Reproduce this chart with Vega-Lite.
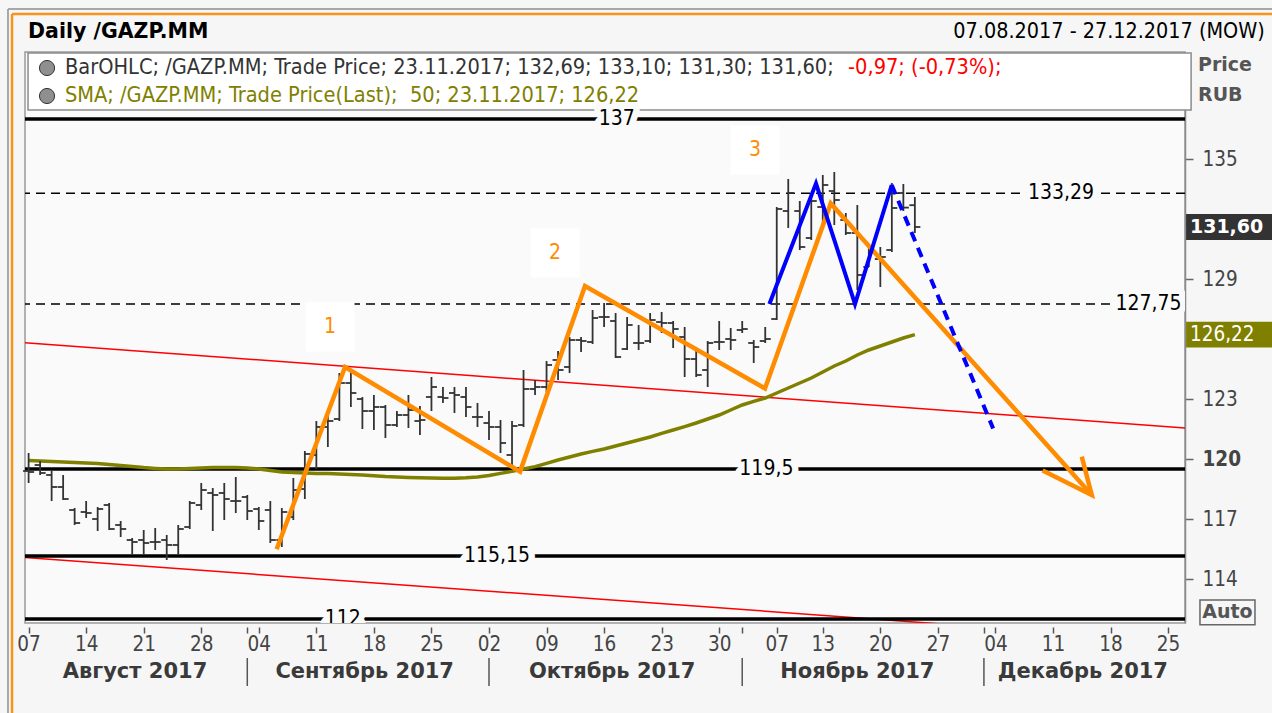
{
"$schema":"https://vega.github.io/schema/vega-lite/v6.json",
"width":1160,"height":571,
"autosize":{"type":"none"},
"padding":{"left":25,"top":52,"right":87,"bottom":90},
"background":"#f6f6f6",
"config":{"font":"DejaVu Sans Condensed","view":{"fill":"#fafafa","stroke":"#9a9a9a","strokeWidth":1.5}},
"datasets":{
"bars":[
{"d":"2017-08-07","i":0,"o":119.4,"h":120.3,"l":118.8,"c":119.35,"s":119.92},
{"d":"2017-08-08","i":1,"o":119.7,"h":119.9,"l":119.2,"c":119.3,"s":119.9},
{"d":"2017-08-09","i":2,"o":119.2,"h":119.4,"l":117.9,"c":118.6,"s":119.88},
{"d":"2017-08-10","i":3,"o":118.6,"h":119.2,"l":117.95,"c":118.0,"s":119.85},
{"d":"2017-08-11","i":4,"o":117.45,"h":117.55,"l":116.7,"c":116.8,"s":119.82},
{"d":"2017-08-14","i":5,"o":117.35,"h":117.9,"l":117.05,"c":117.3,"s":119.8},
{"d":"2017-08-15","i":6,"o":117.0,"h":117.6,"l":116.4,"c":117.5,"s":119.77},
{"d":"2017-08-16","i":7,"o":117.7,"h":117.8,"l":116.45,"c":116.5,"s":119.73},
{"d":"2017-08-17","i":8,"o":116.7,"h":116.9,"l":116.1,"c":116.5,"s":119.68},
{"d":"2017-08-18","i":9,"o":115.95,"h":116.05,"l":115.2,"c":115.85,"s":119.63},
{"d":"2017-08-21","i":10,"o":115.95,"h":116.45,"l":115.2,"c":115.8,"s":119.57},
{"d":"2017-08-22","i":11,"o":115.85,"h":116.55,"l":115.45,"c":115.85,"s":119.53},
{"d":"2017-08-23","i":12,"o":115.95,"h":116.2,"l":114.95,"c":115.7,"s":119.5},
{"d":"2017-08-24","i":13,"o":115.7,"h":116.7,"l":115.2,"c":116.5,"s":119.5},
{"d":"2017-08-25","i":14,"o":116.6,"h":117.9,"l":116.5,"c":117.8,"s":119.52},
{"d":"2017-08-28","i":15,"o":117.7,"h":118.8,"l":117.45,"c":118.45,"s":119.55},
{"d":"2017-08-29","i":16,"o":118.3,"h":118.55,"l":116.4,"c":118.2,"s":119.57},
{"d":"2017-08-30","i":17,"o":118.3,"h":118.8,"l":116.95,"c":118.0,"s":119.58},
{"d":"2017-08-31","i":18,"o":117.9,"h":119.1,"l":117.3,"c":117.9,"s":119.57},
{"d":"2017-09-01","i":19,"o":118.1,"h":118.2,"l":116.95,"c":117.4,"s":119.55},
{"d":"2017-09-04","i":20,"o":117.5,"h":117.6,"l":116.45,"c":116.9,"s":119.5},
{"d":"2017-09-05","i":21,"o":117.45,"h":117.9,"l":115.8,"c":115.95,"s":119.42},
{"d":"2017-09-06","i":22,"o":115.95,"h":117.55,"l":115.6,"c":117.35,"s":119.35},
{"d":"2017-09-07","i":23,"o":117.1,"h":119.05,"l":116.95,"c":118.45,"s":119.32},
{"d":"2017-09-08","i":24,"o":118.5,"h":120.4,"l":118.0,"c":120.25,"s":119.3},
{"d":"2017-09-11","i":25,"o":120.2,"h":121.9,"l":119.5,"c":121.6,"s":119.28},
{"d":"2017-09-12","i":26,"o":121.6,"h":122.3,"l":120.6,"c":121.9,"s":119.27},
{"d":"2017-09-13","i":27,"o":122.0,"h":124.3,"l":121.9,"c":123.8,"s":119.25},
{"d":"2017-09-14","i":28,"o":123.8,"h":124.4,"l":122.6,"c":123.3,"s":119.22},
{"d":"2017-09-15","i":29,"o":123.0,"h":123.1,"l":121.5,"c":122.4,"s":119.2},
{"d":"2017-09-18","i":30,"o":122.4,"h":123.2,"l":121.45,"c":122.6,"s":119.16},
{"d":"2017-09-19","i":31,"o":122.6,"h":122.7,"l":121.05,"c":121.7,"s":119.12},
{"d":"2017-09-20","i":32,"o":121.7,"h":122.4,"l":121.6,"c":122.2,"s":119.1},
{"d":"2017-09-21","i":33,"o":122.2,"h":123.2,"l":121.55,"c":122.45,"s":119.08},
{"d":"2017-09-22","i":34,"o":121.9,"h":122.65,"l":121.2,"c":121.95,"s":119.06},
{"d":"2017-09-25","i":35,"o":123.1,"h":124.1,"l":122.4,"c":123.6,"s":119.05},
{"d":"2017-09-26","i":36,"o":123.1,"h":123.6,"l":122.8,"c":123.05,"s":119.04},
{"d":"2017-09-27","i":37,"o":123.3,"h":123.6,"l":122.3,"c":123.2,"s":119.04},
{"d":"2017-09-28","i":38,"o":123.1,"h":123.6,"l":122.1,"c":122.6,"s":119.06},
{"d":"2017-09-29","i":39,"o":122.1,"h":122.8,"l":121.6,"c":122.1,"s":119.1},
{"d":"2017-10-02","i":40,"o":121.8,"h":122.4,"l":120.95,"c":121.6,"s":119.18},
{"d":"2017-10-03","i":41,"o":121.6,"h":121.95,"l":120.3,"c":120.8,"s":119.28},
{"d":"2017-10-04","i":42,"o":120.2,"h":121.9,"l":119.7,"c":121.65,"s":119.38},
{"d":"2017-10-05","i":43,"o":121.7,"h":124.45,"l":121.6,"c":123.5,"s":119.5},
{"d":"2017-10-06","i":44,"o":123.5,"h":123.95,"l":123.2,"c":123.6,"s":119.62},
{"d":"2017-10-09","i":45,"o":123.6,"h":124.9,"l":123.35,"c":124.7,"s":119.78},
{"d":"2017-10-10","i":46,"o":124.95,"h":125.4,"l":123.95,"c":124.45,"s":119.95},
{"d":"2017-10-11","i":47,"o":124.6,"h":126.1,"l":124.3,"c":125.95,"s":120.1},
{"d":"2017-10-12","i":48,"o":125.95,"h":126.1,"l":125.35,"c":125.9,"s":120.25},
{"d":"2017-10-13","i":49,"o":125.85,"h":127.45,"l":125.75,"c":127.05,"s":120.38},
{"d":"2017-10-16","i":50,"o":127.1,"h":127.8,"l":126.6,"c":127.1,"s":120.5},
{"d":"2017-10-17","i":51,"o":126.9,"h":127.3,"l":125.05,"c":125.1,"s":120.65},
{"d":"2017-10-18","i":52,"o":125.5,"h":127.1,"l":125.45,"c":126.7,"s":120.8},
{"d":"2017-10-19","i":53,"o":125.8,"h":126.7,"l":125.45,"c":125.8,"s":120.95},
{"d":"2017-10-20","i":54,"o":125.9,"h":127.3,"l":125.8,"c":126.95,"s":121.1},
{"d":"2017-10-23","i":55,"o":126.85,"h":127.35,"l":126.3,"c":126.8,"s":121.28},
{"d":"2017-10-24","i":56,"o":126.8,"h":126.9,"l":125.55,"c":126.5,"s":121.45},
{"d":"2017-10-25","i":57,"o":126.1,"h":126.6,"l":124.1,"c":125.0,"s":121.62},
{"d":"2017-10-26","i":58,"o":125.0,"h":125.6,"l":124.1,"c":124.2,"s":121.8},
{"d":"2017-10-27","i":59,"o":124.45,"h":125.9,"l":123.6,"c":125.8,"s":122.0},
{"d":"2017-10-30","i":60,"o":125.85,"h":126.9,"l":125.45,"c":125.85,"s":122.2},
{"d":"2017-10-31","i":61,"o":126.0,"h":126.55,"l":125.45,"c":125.95,"s":122.45},
{"d":"2017-11-01","i":62,"o":126.45,"h":126.9,"l":126.3,"c":126.5,"s":122.7},
{"d":"2017-11-02","i":63,"o":125.8,"h":125.95,"l":124.8,"c":125.6,"s":122.88},
{"d":"2017-11-03","i":64,"o":125.9,"h":126.6,"l":125.8,"c":126.0,"s":123.05},
{"d":"2017-11-07","i":65,"o":127.0,"h":132.6,"l":126.95,"c":132.5,"s":123.3},
{"d":"2017-11-08","i":66,"o":132.4,"h":134.0,"l":131.55,"c":133.3,"s":123.55},
{"d":"2017-11-09","i":67,"o":132.4,"h":132.9,"l":130.45,"c":130.6,"s":123.8},
{"d":"2017-11-10","i":68,"o":131.05,"h":133.3,"l":130.95,"c":132.9,"s":124.05},
{"d":"2017-11-13","i":69,"o":132.6,"h":134.2,"l":131.6,"c":133.7,"s":124.35},
{"d":"2017-11-14","i":70,"o":133.4,"h":134.35,"l":131.7,"c":132.95,"s":124.65},
{"d":"2017-11-15","i":71,"o":131.95,"h":132.3,"l":131.2,"c":131.3,"s":124.9},
{"d":"2017-11-16","i":72,"o":131.3,"h":132.7,"l":128.45,"c":129.2,"s":125.2},
{"d":"2017-11-17","i":73,"o":129.6,"h":130.6,"l":129.6,"c":130.45,"s":125.45},
{"d":"2017-11-20","i":74,"o":130.0,"h":130.6,"l":128.6,"c":130.1,"s":125.65},
{"d":"2017-11-21","i":75,"o":130.45,"h":133.8,"l":130.35,"c":132.55,"s":125.85},
{"d":"2017-11-22","i":76,"o":133.3,"h":133.75,"l":132.4,"c":132.57,"s":126.05},
{"d":"2017-11-23","i":77,"o":132.69,"h":133.1,"l":131.3,"c":131.6,"s":126.22}
],
"levels":[
{"v":137,"s":"solid","lab":"137","at":51.1},
{"v":133.29,"s":"dash","lab":"133,29","at":89.7},
{"v":127.75,"s":"dash","lab":"127,75","at":97.3},
{"v":119.5,"s":"solid","lab":"119,5","at":64.1},
{"v":115.15,"s":"solid","lab":"115,15","at":40.7},
{"v":112,"s":"solid","lab":"112","at":27.3}
],
"red":[
{"g":"up","i":-0.313,"v":125.81},{"g":"up","i":100.47,"v":121.55},
{"g":"low","i":-0.313,"v":115.07},{"g":"low","i":100.47,"v":110.87}
],
"orange":[
{"g":"z","k":1,"i":21.55,"v":115.49},{"g":"z","k":2,"i":27.49,"v":124.6},{"g":"z","k":3,"i":42.7,"v":119.37},
{"g":"z","k":4,"i":48.34,"v":128.65},{"g":"z","k":5,"i":63.98,"v":123.53},{"g":"z","k":6,"i":69.69,"v":132.78},
{"g":"z","k":7,"i":92.37,"v":118.2},
{"g":"a","k":1,"i":88.1,"v":119.42},{"g":"a","k":2,"i":92.37,"v":118.2},{"g":"a","k":3,"i":91.5,"v":120.12}
],
"blue":[
{"g":"s","k":1,"i":64.36,"v":127.75},{"g":"s","k":2,"i":68.41,"v":133.78},{"g":"s","k":3,"i":71.8,"v":127.75},{"g":"s","k":4,"i":74.99,"v":133.7},
{"g":"d","k":1,"i":74.99,"v":133.7},{"g":"d","k":2,"i":83.8,"v":121.53}
],
"nums":[{"n":"1","i":26.19,"v":126.6},{"n":"2","i":45.73,"v":130.3},{"n":"3","i":63.11,"v":135.45}],
"months":[{"m":"Август 2017","i":9.24},{"m":"Сентябрь 2017","i":29.2},{"m":"Октябрь 2017","i":50.7},{"m":"Ноябрь 2017","i":72.0},{"m":"Декабрь 2017","i":91.6}],
"seps":[{"i":19},{"i":40},{"i":62},{"i":83}],
"last":[{"t":"131,60","v":131.6,"k":"close"},{"t":"126,22","v":126.22,"k":"sma"}]
},
"layer":[
{"data":{"values":[{}]},"mark":{"type":"rule","color":"#a8a8a8","strokeWidth":2},
 "encoding":{"x":{"datum":-1.79,"type":"quantitative","scale":{"domain":[-0.313,100.47],"nice":false,"zero":false}},"x2":{"datum":-1.79},
 "y":{"datum":142.5,"type":"quantitative","scale":{"domain":[111.8,140.35],"nice":false,"zero":false}},"y2":{"datum":107.3}}},
{"data":{"values":[{}]},"mark":{"type":"rule","color":"#a8a8a8","strokeWidth":2},
 "encoding":{"x":{"datum":-1.79,"type":"quantitative","scale":{"domain":[-0.313,100.47],"nice":false,"zero":false}},"x2":{"datum":108.2},
 "y":{"datum":142.5,"type":"quantitative","scale":{"domain":[111.8,140.35],"nice":false,"zero":false}}}},
{"data":{"values":[{}]},"mark":{"type":"rule","color":"#f7941d","strokeWidth":2.5},
 "encoding":{"x":{"datum":-1.44,"type":"quantitative","scale":{"domain":[-0.313,100.47],"nice":false,"zero":false}},"x2":{"datum":-1.44},
 "y":{"datum":142.25,"type":"quantitative","scale":{"domain":[111.8,140.35],"nice":false,"zero":false}},"y2":{"datum":107.3}}},
{"data":{"values":[{}]},"mark":{"type":"rule","color":"#f7941d","strokeWidth":2.5},
 "encoding":{"x":{"datum":-1.44,"type":"quantitative","scale":{"domain":[-0.313,100.47],"nice":false,"zero":false}},"x2":{"datum":108.2},
 "y":{"datum":142.25,"type":"quantitative","scale":{"domain":[111.8,140.35],"nice":false,"zero":false}}}},
{"data":{"values":[{}]},"mark":{"type":"rect","fill":"#ffffff","stroke":"#8c8c8c","strokeWidth":1.5},
 "encoding":{"x":{"datum":-0.05,"type":"quantitative","scale":{"domain":[-0.313,100.47],"nice":false,"zero":false}},"x2":{"datum":101.0},
 "y":{"datum":140.3,"type":"quantitative","scale":{"domain":[111.8,140.35],"nice":false,"zero":false}},"y2":{"datum":137.45}}},
{"data":{"name":"red"},"mark":{"type":"line","color":"#ff0000","strokeWidth":1.5,"clip":true},
 "encoding":{"x":{"field":"i","type":"quantitative","scale":{"domain":[-0.313,100.47],"nice":false,"zero":false}},
 "y":{"field":"v","type":"quantitative","scale":{"domain":[111.8,140.35],"nice":false,"zero":false}},"detail":{"field":"g"}}},
{"data":{"name":"levels"},"transform":[{"filter":"datum.s == 'solid'"}],"mark":{"type":"rule","color":"#000000","strokeWidth":3.5},
 "encoding":{"y":{"field":"v","type":"quantitative","scale":{"domain":[111.8,140.35],"nice":false,"zero":false}}}},
{"data":{"name":"levels"},"transform":[{"filter":"datum.s == 'dash'"}],"mark":{"type":"rule","color":"#000000","strokeWidth":1.5,"strokeDash":[9,6]},
 "encoding":{"y":{"field":"v","type":"quantitative","scale":{"domain":[111.8,140.35],"nice":false,"zero":false}}}},
{"data":{"name":"bars"},"mark":{"type":"line","color":"#808000","strokeWidth":3.5},
 "encoding":{"x":{"field":"i","type":"quantitative","scale":{"domain":[-0.313,100.47],"nice":false,"zero":false}},
 "y":{"field":"s","type":"quantitative","scale":{"domain":[111.8,140.35],"nice":false,"zero":false}}}},
{"data":{"name":"bars"},"mark":{"type":"rule","color":"#333333","strokeWidth":1.8},
 "encoding":{"x":{"field":"i","type":"quantitative","scale":{"domain":[-0.313,100.47],"nice":false,"zero":false},
   "axis":{"title":null,"values":[0,5,10,15,19,20,25,30,35,40,45,50,55,60,62,65,69,74,79,83,84,89,94,99],
   "labelExpr":"['07','14','21','28','','04','11','18','25','02','09','16','23','30','','07','13','20','27','','04','11','18','25'][indexof([0,5,10,15,19,20,25,30,35,40,45,50,55,60,62,65,69,74,79,83,84,89,94,99], datum.value)]",
   "domain":false,"grid":false,"tickSize":6,"tickColor":"#555555","tickWidth":1.5,"offset":4,"labelFontSize":20.5,"labelColor":"#444444","labelPadding":1,"labelOverlap":false,"labelFlush":false}},
 "y":{"field":"l","type":"quantitative","scale":{"domain":[111.8,140.35],"nice":false,"zero":false},
   "axis":{"orient":"right","title":null,"values":[114,117,120,123,129,135],"grid":false,"domain":true,"domainColor":"#8a8a8a","domainWidth":1.5,"tickSize":8,"tickColor":"#666666","tickWidth":1.5,"labelPadding":9,"labelFontSize":20.5,"labelColor":"#444444","labelOverlap":false,"labelFlush":false,
   "labelFontWeight":{"condition":{"test":"datum.value == 120","value":"bold"},"value":"normal"}}},
 "y2":{"field":"h"}}},
{"data":{"name":"bars"},"mark":{"type":"rule","color":"#333333","strokeWidth":1.8,"xOffset":-5.5,"x2Offset":0},
 "encoding":{"x":{"field":"i","type":"quantitative","scale":{"domain":[-0.313,100.47],"nice":false,"zero":false}},"x2":{"field":"i"},
 "y":{"field":"o","type":"quantitative","scale":{"domain":[111.8,140.35],"nice":false,"zero":false}}}},
{"data":{"name":"bars"},"mark":{"type":"rule","color":"#333333","strokeWidth":1.8,"xOffset":0,"x2Offset":5.5},
 "encoding":{"x":{"field":"i","type":"quantitative","scale":{"domain":[-0.313,100.47],"nice":false,"zero":false}},"x2":{"field":"i"},
 "y":{"field":"c","type":"quantitative","scale":{"domain":[111.8,140.35],"nice":false,"zero":false}}}},
{"data":{"name":"levels"},"mark":{"type":"text","fontSize":21,"fill":"#fafafa","stroke":"#fafafa","strokeWidth":13,"strokeJoin":"round","clip":true},
 "encoding":{"x":{"field":"at","type":"quantitative","scale":{"domain":[-0.313,100.47],"nice":false,"zero":false}},
 "y":{"field":"v","type":"quantitative","scale":{"domain":[111.8,140.35],"nice":false,"zero":false}},"text":{"field":"lab"}}},
{"data":{"name":"levels"},"mark":{"type":"text","fontSize":21,"color":"#000000","clip":true},
 "encoding":{"x":{"field":"at","type":"quantitative","scale":{"domain":[-0.313,100.47],"nice":false,"zero":false}},
 "y":{"field":"v","type":"quantitative","scale":{"domain":[111.8,140.35],"nice":false,"zero":false}},"text":{"field":"lab"}}},
{"data":{"name":"nums"},"mark":{"type":"point","shape":"square","size":2400,"filled":true,"color":"#ffffff","opacity":1},
 "encoding":{"x":{"field":"i","type":"quantitative","scale":{"domain":[-0.313,100.47],"nice":false,"zero":false}},
 "y":{"field":"v","type":"quantitative","scale":{"domain":[111.8,140.35],"nice":false,"zero":false}}}},
{"data":{"name":"nums"},"mark":{"type":"text","fontSize":21,"color":"#ff8c00"},
 "encoding":{"x":{"field":"i","type":"quantitative","scale":{"domain":[-0.313,100.47],"nice":false,"zero":false}},
 "y":{"field":"v","type":"quantitative","scale":{"domain":[111.8,140.35],"nice":false,"zero":false}},"text":{"field":"n"}}},
{"data":{"name":"orange"},"mark":{"type":"line","color":"#ff8c00","strokeWidth":4.5,"strokeJoin":"miter"},
 "encoding":{"x":{"field":"i","type":"quantitative","scale":{"domain":[-0.313,100.47],"nice":false,"zero":false}},
 "y":{"field":"v","type":"quantitative","scale":{"domain":[111.8,140.35],"nice":false,"zero":false}},"detail":{"field":"g"},"order":{"field":"k"}}},
{"data":{"name":"blue"},"transform":[{"filter":"datum.g == 's'"}],"mark":{"type":"line","color":"#0000ff","strokeWidth":4,"strokeJoin":"miter"},
 "encoding":{"x":{"field":"i","type":"quantitative","scale":{"domain":[-0.313,100.47],"nice":false,"zero":false}},
 "y":{"field":"v","type":"quantitative","scale":{"domain":[111.8,140.35],"nice":false,"zero":false}},"order":{"field":"k"}}},
{"data":{"name":"blue"},"transform":[{"filter":"datum.g == 'd'"}],"mark":{"type":"line","color":"#0000ff","strokeWidth":4,"strokeDash":[10,7]},
 "encoding":{"x":{"field":"i","type":"quantitative","scale":{"domain":[-0.313,100.47],"nice":false,"zero":false}},
 "y":{"field":"v","type":"quantitative","scale":{"domain":[111.8,140.35],"nice":false,"zero":false}},"order":{"field":"k"}}},
{"data":{"name":"months"},"mark":{"type":"text","font":"DejaVu Sans","fontSize":21,"fontWeight":"bold","color":"#3a3a3a"},
 "encoding":{"x":{"field":"i","type":"quantitative","scale":{"domain":[-0.313,100.47],"nice":false,"zero":false}},
 "y":{"datum":109.35,"type":"quantitative","scale":{"domain":[111.8,140.35],"nice":false,"zero":false}},"text":{"field":"m"}}},
{"data":{"name":"seps"},"mark":{"type":"rule","color":"#555555","strokeWidth":1.5},
 "encoding":{"x":{"field":"i","type":"quantitative","scale":{"domain":[-0.313,100.47],"nice":false,"zero":false}},
 "y":{"datum":110.05,"type":"quantitative","scale":{"domain":[111.8,140.35],"nice":false,"zero":false}},"y2":{"datum":108.65}}},
{"data":{"values":[{"t":"Daily /GAZP.MM"}]},"mark":{"type":"text","font":"DejaVu Sans","fontSize":20.5,"fontWeight":"bold","color":"#000000","align":"left"},
 "encoding":{"x":{"datum":-0.05,"type":"quantitative","scale":{"domain":[-0.313,100.47],"nice":false,"zero":false}},
 "y":{"datum":141.35,"type":"quantitative","scale":{"domain":[111.8,140.35],"nice":false,"zero":false}},"text":{"field":"t"}}},
{"data":{"values":[{"t":"07.08.2017 - 27.12.2017 (MOW)"}]},"mark":{"type":"text","fontSize":21.4,"color":"#000000","align":"right"},
 "encoding":{"x":{"datum":107.4,"type":"quantitative","scale":{"domain":[-0.313,100.47],"nice":false,"zero":false}},
 "y":{"datum":141.35,"type":"quantitative","scale":{"domain":[111.8,140.35],"nice":false,"zero":false}},"text":{"field":"t"}}},
{"data":{"values":[{"s":"BarOHLC"}]},"mark":{"type":"point","shape":"circle","size":230,"filled":true,"fill":"#8f8f8f","stroke":"#333333","strokeWidth":1,"opacity":1},
 "encoding":{"x":{"datum":1.6,"type":"quantitative","scale":{"domain":[-0.313,100.47],"nice":false,"zero":false}},
 "y":{"datum":139.55,"type":"quantitative","scale":{"domain":[111.8,140.35],"nice":false,"zero":false}}}},
{"data":{"values":[{"s":"SMA"}]},"mark":{"type":"point","shape":"circle","size":230,"filled":true,"fill":"#8f8f8f","stroke":"#333333","strokeWidth":1,"opacity":1},
 "encoding":{"x":{"datum":1.6,"type":"quantitative","scale":{"domain":[-0.313,100.47],"nice":false,"zero":false}},
 "y":{"datum":138.15,"type":"quantitative","scale":{"domain":[111.8,140.35],"nice":false,"zero":false}}}},
{"data":{"values":[{"t":"BarOHLC; /GAZP.MM; Trade Price; 23.11.2017; 132,69; 133,10; 131,30; 131,60;"}]},"mark":{"type":"text","fontSize":21.6,"color":"#333333","align":"left"},
 "encoding":{"x":{"datum":3.16,"type":"quantitative","scale":{"domain":[-0.313,100.47],"nice":false,"zero":false}},
 "y":{"datum":139.55,"type":"quantitative","scale":{"domain":[111.8,140.35],"nice":false,"zero":false}},"text":{"field":"t"}}},
{"data":{"values":[{"t":"-0,97; (-0,73%);"}]},"mark":{"type":"text","fontSize":21.6,"color":"#ff0000","align":"left"},
 "encoding":{"x":{"datum":71.2,"type":"quantitative","scale":{"domain":[-0.313,100.47],"nice":false,"zero":false}},
 "y":{"datum":139.55,"type":"quantitative","scale":{"domain":[111.8,140.35],"nice":false,"zero":false}},"text":{"field":"t"}}},
{"data":{"values":[{"t":"SMA; /GAZP.MM; Trade Price(Last); \u00a050; 23.11.2017; 126,22"}]},"mark":{"type":"text","fontSize":21.6,"color":"#808000","align":"left"},
 "encoding":{"x":{"datum":3.16,"type":"quantitative","scale":{"domain":[-0.313,100.47],"nice":false,"zero":false}},
 "y":{"datum":138.15,"type":"quantitative","scale":{"domain":[111.8,140.35],"nice":false,"zero":false}},"text":{"field":"t"}}},
{"data":{"values":[{"t":"Price"}]},"mark":{"type":"text","font":"DejaVu Sans","fontSize":19,"fontWeight":"bold","color":"#555555","align":"left"},
 "encoding":{"x":{"datum":101.6,"type":"quantitative","scale":{"domain":[-0.313,100.47],"nice":false,"zero":false}},
 "y":{"datum":139.7,"type":"quantitative","scale":{"domain":[111.8,140.35],"nice":false,"zero":false}},"text":{"field":"t"}}},
{"data":{"values":[{"t":"RUB"}]},"mark":{"type":"text","font":"DejaVu Sans","fontSize":19,"fontWeight":"bold","color":"#555555","align":"left"},
 "encoding":{"x":{"datum":101.6,"type":"quantitative","scale":{"domain":[-0.313,100.47],"nice":false,"zero":false}},
 "y":{"datum":138.2,"type":"quantitative","scale":{"domain":[111.8,140.35],"nice":false,"zero":false}},"text":{"field":"t"}}},
{"data":{"name":"last"},"mark":{"type":"point","shape":"M-1,-0.3L1,-0.3L1,0.3L-1,0.3Z","size":7396,"filled":true,"opacity":1,"strokeWidth":0},
 "encoding":{"x":{"datum":104.3,"type":"quantitative","scale":{"domain":[-0.313,100.47],"nice":false,"zero":false}},
 "y":{"field":"v","type":"quantitative","scale":{"domain":[111.8,140.35],"nice":false,"zero":false}},
 "color":{"field":"k","type":"nominal","scale":{"domain":["close","sma"],"range":["#333333","#808000"]},"legend":null}}},
{"data":{"name":"last"},"transform":[{"filter":"datum.k == 'close'"}],"mark":{"type":"text","font":"DejaVu Sans","fontSize":19,"fontWeight":"bold","color":"#ffffff","align":"left"},
 "encoding":{"x":{"datum":100.9,"type":"quantitative","scale":{"domain":[-0.313,100.47],"nice":false,"zero":false}},
 "y":{"field":"v","type":"quantitative","scale":{"domain":[111.8,140.35],"nice":false,"zero":false}},"text":{"field":"t"}}},
{"data":{"name":"last"},"transform":[{"filter":"datum.k == 'sma'"}],"mark":{"type":"text","fontSize":20.5,"color":"#ffffff","align":"left"},
 "encoding":{"x":{"datum":100.9,"type":"quantitative","scale":{"domain":[-0.313,100.47],"nice":false,"zero":false}},
 "y":{"field":"v","type":"quantitative","scale":{"domain":[111.8,140.35],"nice":false,"zero":false}},"text":{"field":"t"}}},
{"data":{"values":[{"t":"Auto"}]},"mark":{"type":"point","shape":"M-1,-0.45L1,-0.45L1,0.45L-1,0.45Z","size":3025,"filled":false,"stroke":"#666666","strokeWidth":1.5,"opacity":1},
 "encoding":{"x":{"datum":104.16,"type":"quantitative","scale":{"domain":[-0.313,100.47],"nice":false,"zero":false}},
 "y":{"datum":112.33,"type":"quantitative","scale":{"domain":[111.8,140.35],"nice":false,"zero":false}}}},
{"data":{"values":[{"t":"Auto"}]},"mark":{"type":"text","font":"DejaVu Sans","fontSize":19,"fontWeight":"bold","color":"#555555"},
 "encoding":{"x":{"datum":104.16,"type":"quantitative","scale":{"domain":[-0.313,100.47],"nice":false,"zero":false}},
 "y":{"datum":112.33,"type":"quantitative","scale":{"domain":[111.8,140.35],"nice":false,"zero":false}},"text":{"field":"t"}}}
]
}
